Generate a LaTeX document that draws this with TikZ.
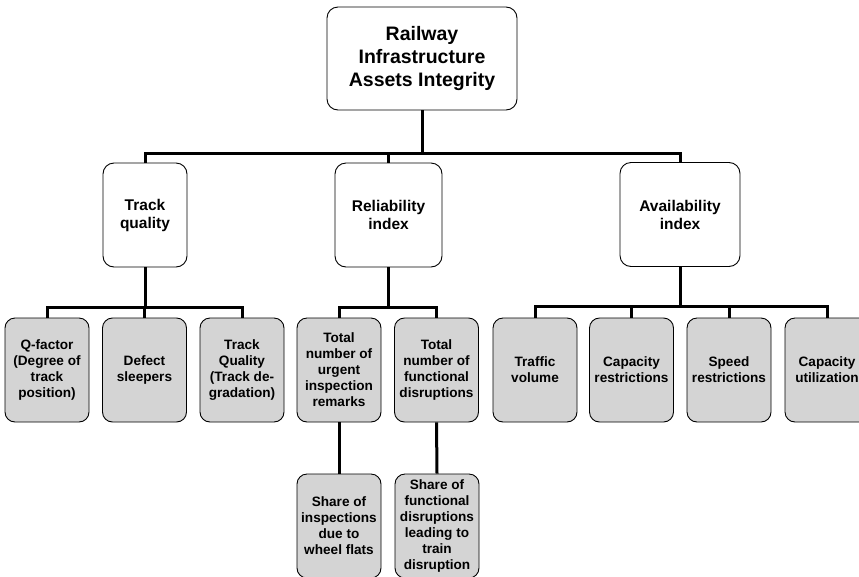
\documentclass[tikz,border=0pt]{standalone}
\usepackage{fontspec}
\setmainfont{Liberation Sans}
\definecolor{leafgray}{gray}{0.83}
\begin{document}
\begin{tikzpicture}[x=1pt,y=-1pt,
  box/.style={draw=black, line width=0.9pt, rounded corners=11pt, align=center,
    inner sep=0pt, font=\bfseries},
  rootbox/.style={box, fill=white, minimum width=190pt, minimum height=103pt,
    font=\bfseries\fontsize{19.5}{23}\selectfont,
    execute at begin node={\rule{0pt}{22pt}}},
  midbox/.style={box, fill=white, minimum height=104pt,
    font=\bfseries\fontsize{15.5}{18}\selectfont,
    execute at begin node={\rule{0pt}{15pt}}},
  leaf/.style={box, fill=leafgray, minimum width=84pt, minimum height=104pt,
    rounded corners=10pt, font=\bfseries\fontsize{13.6}{16}\selectfont,
    execute at begin node={\rule{0pt}{16pt}}},
  bus/.style={draw=black, line width=3pt}]
\useasboundingbox (0,0) rectangle (859,576);

% root
\node[rootbox] (root) at (422,58.5) {Railway\\Infrastructure\\Assets Integrity};

% second level
\node[midbox, minimum width=84pt] (tq) at (145,215) {Track\\quality};
\node[midbox, minimum width=107pt] (ri) at (388.5,215) {Reliability\\index};
\node[midbox, minimum width=120pt] (ai) at (680,214.5) {Availability\\index};

% leaves
\node[leaf] (qf) at (47,370) {Q-factor\\(Degree of\\track\\position)};
\node[leaf] (ds) at (144.5,370) {Defect\\sleepers};
\node[leaf] (tqd) at (242,370) {Track\\Quality\\(Track de-\\gradation)};
\node[leaf] (tu) at (339,370) {Total\\number of\\urgent\\inspection\\remarks};
\node[leaf] (tf) at (436.5,370) {Total\\number of\\functional\\disruptions};
\node[leaf] (tv) at (535,370) {Traffic\\volume};
\node[leaf] (cr) at (631.5,370) {Capacity\\restrictions};
\node[leaf] (sr) at (729,370) {Speed\\restrictions};
\node[leaf] (cu) at (827,370) {Capacity\\utilization};

% third level
\node[leaf] (sw) at (339,526) {Share of\\inspections\\due to\\wheel flats};
\node[leaf] (sf) at (437,526) {Share of\\functional\\disruptions\\leading to\\train\\disruption};

% connectors from the root
\foreach \t in {tq,ri,ai}
  \draw[bus] (root.south) -- ++(0,43) -| (\t.north);

% connectors to the leaves
\foreach \t in {qf,ds,tqd}
  \draw[bus] (tq.south) -- ++(0,40) -| (\t.north);
\foreach \t in {tu,tf}
  \draw[bus] (ri.south) -- ++(0,40) -| (\t.north);
\foreach \t in {tv,cr,sr,cu}
  \draw[bus] (ai.south) -- ++(0,40) -| (\t.north);

% third-level connectors
\draw[bus] (tu.south) -- (sw.north);
\draw[bus] (tf.south) -- (sf.north);
\end{tikzpicture}
\end{document}
